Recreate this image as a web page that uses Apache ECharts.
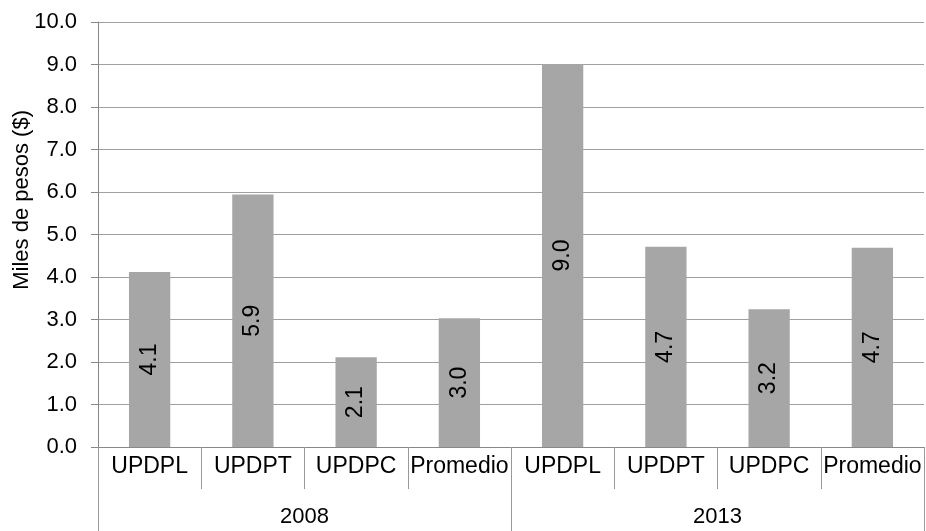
<!DOCTYPE html>
<html>
<head>
<meta charset="utf-8">
<script src="https://cdn.jsdelivr.net/npm/echarts@6/dist/echarts.min.js"></script>
<style>html,body{margin:0;padding:0;background:#fff}#c{width:926px;height:531px}</style>
</head>
<body>
<div id="c"></div>
<script>
const categories = ['UPDPL','UPDPT','UPDPC','Promedio','UPDPL','UPDPT','UPDPC','Promedio'];
const groups = ['2008','2013'];
const values = [4.12, 5.94, 2.11, 3.03, 9.01, 4.71, 3.24, 4.69];
const yTicks = [0,1,2,3,4,5,6,7,8,9,10];
const axisTitle = 'Miles de pesos ($)';

const FONT = 'Liberation Sans, Arial, sans-serif';
const chart = echarts.init(document.getElementById('c'), null, {renderer:'canvas'});
chart.setOption({
  animation: false,
  backgroundColor: '#fff',
  grid: {left: 98, right: 2, top: 22, bottom: 84, containLabel: false},
  xAxis: [{
    type: 'category',
    data: categories,
    position: 'bottom',
    axisLine: {show: true, lineStyle: {color: '#888', width: 1}},
    axisTick: {show: true, interval: 0, length: 42, lineStyle: {color: '#999'}},
    axisLabel: {interval: 0, margin: 8, color: '#000', fontSize: 23, fontFamily: FONT},
    splitLine: {show: false}
  },{
    type: 'category',
    data: groups,
    position: 'bottom',
    axisLine: {show: false},
    axisTick: {show: true, interval: 0, length: 84, lineStyle: {color: '#999'}},
    axisLabel: {interval: 0, margin: 59, color: '#000', fontSize: 22, fontFamily: FONT},
    splitLine: {show: false}
  }],
  yAxis: {
    type: 'value',
    min: yTicks[0], max: yTicks[yTicks.length-1], interval: 1,
    axisLine: {show: true, lineStyle: {color: '#888'}},
    axisTick: {show: true, length: 7, lineStyle: {color: '#888'}},
    axisLabel: {margin: 21, color: '#000', fontSize: 22, fontFamily: FONT,
      formatter: v => v.toFixed(1)},
    splitLine: {show: true, lineStyle: {color: '#a0a0a0', width: 1}}
  },
  graphic: [{
    type: 'text',
    left: 11, top: 110,
    rotation: Math.PI/2,
    style: {text: axisTitle, fill: '#000', font: '22px ' + FONT},
    origin: [0,0]
  }],
  series: [{
    type: 'bar',
    xAxisIndex: 0,
    data: values,
    barWidth: '40%',
    itemStyle: {color: '#A6A6A6'},
    label: {
      show: true, position: 'inside', rotate: 90,
      color: '#000', fontSize: 23, fontFamily: FONT,
      formatter: p => p.value.toFixed(1)
    }
  }]
});
</script>
</body>
</html>
